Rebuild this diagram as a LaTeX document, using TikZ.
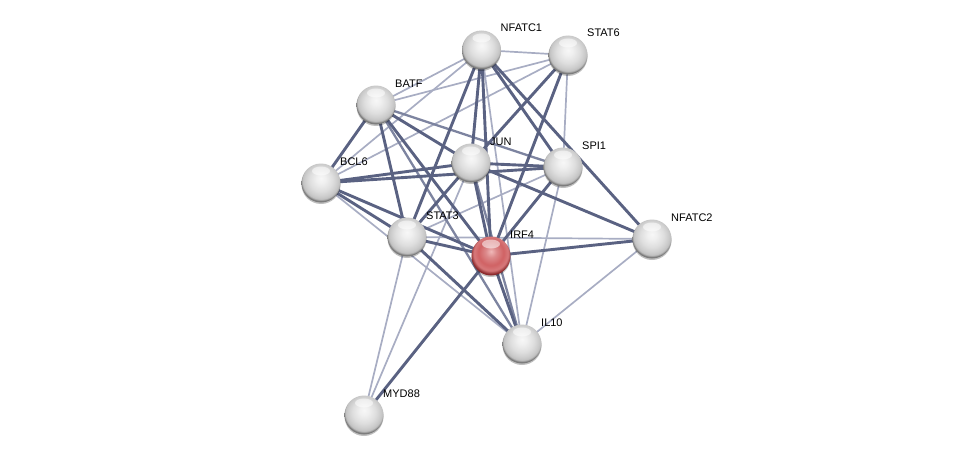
\documentclass[tikz,border=0pt]{standalone}
\usepackage{fontspec}
\setmainfont{Liberation Sans}
\usetikzlibrary{backgrounds,shadows}
\definecolor{edgeT}{RGB}{90,98,130}
\definecolor{edgeM}{RGB}{125,132,160}
\definecolor{edgeL}{RGB}{168,173,195}
\definecolor{rlight}{RGB}{240,185,185}
\definecolor{rmid}{RGB}{208,98,100}
\definecolor{rdark}{RGB}{140,42,45}
\pgfdeclareradialshading{gball}{\pgfpoint{0bp}{6bp}}{color(0bp)=(white!97!black); color(6bp)=(black!6); color(15bp)=(black!13); color(21bp)=(black!20); color(24bp)=(black!25); color(26bp)=(black!52); color(50bp)=(black!52)}
\pgfdeclareradialshading{rball}{\pgfpoint{0bp}{6bp}}{color(0bp)=(rlight); color(7bp)=(rmid!75!white); color(16bp)=(rmid); color(22bp)=(rmid!85!white); color(26bp)=(rdark); color(50bp)=(rdark)}
\tikzset{
  prot/.style={circle, minimum size=39pt, inner sep=0pt, shading=gball,
    drop shadow={shadow xshift=0pt, shadow yshift=-1.5pt, fill=black, opacity=0.25},
    path picture={\fill[white,opacity=0.55] ([yshift=12pt]path picture bounding box.center) ellipse [x radius=9pt, y radius=4.5pt];}},
  protred/.style={prot, shading=rball},
  lab/.style={anchor=base west, font=\fontsize{11}{13}\selectfont, text=black, inner sep=0pt},
  tE/.style={draw=edgeT, line width=2.9pt},
  mE/.style={draw=edgeM, line width=2.3pt},
  lE/.style={draw=edgeL, line width=1.7pt}
}
\begin{document}
\begin{tikzpicture}[x=1pt,y=-1pt]
\useasboundingbox (0,0) rectangle (976,460);
\node[prot] (nfatc1) at (481.5,50) {};
\node[prot] (stat6) at (568,55) {};
\node[prot] (batf) at (376,105) {};
\node[prot] (jun) at (471,163) {};
\node[prot] (spi1) at (563,167) {};
\node[prot] (bcl6) at (321,183) {};
\node[prot] (nfatc2) at (652,239) {};
\node[prot] (stat3) at (407,237) {};
\node[protred] (irf4) at (491,256) {};
\node[prot] (il10) at (522,344) {};
\node[prot] (myd88) at (364,415) {};
\begin{scope}[on background layer]
\foreach \a/\b in {nfatc1/stat6, nfatc1/batf, nfatc1/bcl6, stat6/batf, stat6/bcl6, stat6/spi1, stat3/spi1, stat3/nfatc2, stat3/myd88, bcl6/il10, jun/myd88, spi1/il10, nfatc2/il10, nfatc1/il10}
  \draw[lE] (\a.center) -- (\b.center);
\foreach \a/\b in {batf/spi1, batf/il10, jun/il10}
  \draw[mE] (\a.center) -- (\b.center);
\foreach \a/\b in {batf/bcl6, batf/stat3, batf/jun, batf/irf4, bcl6/jun, bcl6/spi1, bcl6/stat3, bcl6/irf4, nfatc1/jun, nfatc1/stat3, nfatc1/irf4, nfatc1/spi1, nfatc1/nfatc2, stat6/jun, stat6/irf4, jun/spi1, jun/stat3, jun/irf4, jun/nfatc2, spi1/irf4, stat3/irf4, stat3/il10, irf4/nfatc2, irf4/il10, irf4/myd88}
  \draw[tE] (\a.center) -- (\b.center);
\end{scope}
\path (nfatc1) ++(19,-18) node[lab] (lnfatc1) {NFATC1};
\path (stat6) ++(19,-18) node[lab] (lstat6) {STAT6};
\path (batf) ++(19,-18) node[lab] (lbatf) {BATF};
\path (jun) ++(19,-18) node[lab] (ljun) {JUN};
\path (spi1) ++(19,-18) node[lab] (lspi1) {SPI1};
\path (bcl6) ++(19,-18) node[lab] (lbcl6) {BCL6};
\path (nfatc2) ++(19,-18) node[lab] (lnfatc2) {NFATC2};
\path (stat3) ++(19,-18) node[lab] (lstat3) {STAT3};
\path (irf4) ++(19,-18) node[lab] (lirf4) {IRF4};
\path (il10) ++(19,-18) node[lab] (lil10) {IL10};
\path (myd88) ++(19,-18) node[lab] (lmyd88) {MYD88};
\end{tikzpicture}
\end{document}
